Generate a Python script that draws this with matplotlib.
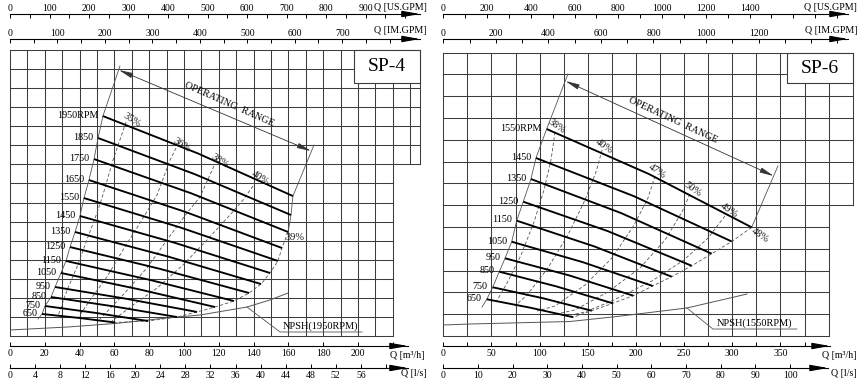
import numpy as np
import matplotlib.pyplot as plt

plt.rcParams['font.family'] = ['Liberation Serif', 'DejaVu Serif']

# ---------------- SP-4 (Q in m3/h, H in m) ----------------
sp4_rpm = ['1950RPM', '1850', '1750', '1650', '1550', '1450', '1350',
           '1250', '1150', '1050', '950', '850', '750', '650']
sp4_q_start = [53.4, 50.6, 48.3, 45.4, 42.5, 40.2, 37.4, 34.5, 32.2, 29.3, 25.9, 23.6, 20.1, 18.4]
sp4_h_start = [23.07, 20.77, 18.56, 16.36, 14.47, 12.59, 10.91, 9.33, 7.87, 6.61, 5.14, 4.09, 3.15, 2.31]
sp4_q_mid = [108.0, 106.1, 104.1, 100.9, 98.3, 94.8, 90.9, 86.0, 80.5, 73.6, 66.7, 59.8, 49.7, 39.4]
sp4_h_mid = [19.15, 16.98, 14.97, 13.01, 11.36, 9.77, 8.33, 7.05, 5.88, 4.92, 3.91, 3.10, 2.41, 1.90]
sp4_q_end = [162.6, 161.5, 159.8, 156.3, 154.0, 149.4, 144.3, 137.4, 128.7, 117.8, 107.5, 96.0, 79.3, 60.3]
sp4_h_end = [14.68, 12.69, 10.91, 9.23, 7.87, 6.61, 5.45, 4.51, 3.67, 3.04, 2.52, 1.99, 1.57, 1.42]

sp4_eff = ['35%', '36%', '38%', '40%']
sp4_eff_q = [[66.7, 59.2, 53.4, 50.0, 44.8, 38.5, 32.8, 27.6],
             [95.4, 92.0, 84.5, 74.7, 64.9, 55.7, 46.0, 39.1],
             [117.2, 109.2, 101.7, 90.2, 78.7, 64.9, 51.7],
             [139.7, 133.9, 126.4, 113.2, 99.4, 84.5, 70.7, 58.6]]
sp4_eff_h = [[22.44, 18.46, 14.79, 12.90, 10.38, 7.24, 4.82, 2.10],
             [19.72, 18.46, 14.79, 11.85, 9.02, 6.19, 3.78, 1.89],
             [17.83, 14.58, 12.90, 10.07, 7.13, 4.30, 1.78],
             [15.73, 14.26, 12.69, 10.07, 7.45, 5.03, 3.25, 1.57]]
sp4_edge_eff = '39%'
sp4_left_top = (63.2, 28.32)
sp4_left_bottom = (16.1, 1.78)
sp4_right_top = (174.7, 20.03)
sp4_range = [(62.6, 27.90), (173.0, 19.40)]

sp4_npsh_q = [0, 32.8, 60.3, 90.2, 109.2, 136.2, 149.4, 159.8]
sp4_npsh_h = [0.63, 0.94, 1.31, 1.89, 2.20, 3.04, 3.78, 4.51]

# ---------------- SP-6 ----------------
sp6_rpm = ['1550RPM', '1450', '1350', '1250', '1150', '1050', '950', '850', '750', '650']
sp6_q_start = [107.3, 96.2, 91.0, 83.0, 76.2, 71.0, 64.1, 58.1, 51.3, 45.1]
sp6_h_start = [18.99, 16.33, 14.40, 12.32, 10.58, 8.65, 7.13, 5.90, 4.47, 3.37]
sp6_q_mid = [213.7, 197.8, 184.8, 170.5, 156.7, 144.2, 130.7, 117.0, 102.7, 90.1]
sp6_h_mid = [14.85, 12.83, 11.27, 9.63, 8.22, 6.79, 5.56, 4.56, 3.48, 2.60]
sp6_q_end = [320.1, 299.4, 278.6, 257.9, 237.1, 217.4, 197.2, 175.9, 154.1, 135.0]
sp6_h_end = [9.97, 8.67, 7.55, 6.44, 5.44, 4.59, 3.70, 3.00, 2.32, 1.72]

sp6_eff = ['38%', '40%', '47%', '50%', '49%']
sp6_eff_q = [[116.0, 111.8, 104.5, 94.2, 80.7, 66.2, 54.8],
             [164.8, 158.5, 147.1, 129.4, 108.6, 86.8, 74.4],
             [219.8, 212.5, 198.0, 175.1, 147.1, 115.9, 97.2],
             [256.1, 247.8, 230.2, 204.2, 171.0, 136.7, 118.0],
             [292.4, 274.8, 249.8, 216.6, 177.1, 147.0, 127.3]]
sp6_eff_h = [[18.72, 16.15, 13.39, 10.46, 7.43, 4.86, 3.12],
             [17.06, 15.05, 12.48, 9.27, 6.24, 3.76, 2.75],
             [14.68, 12.66, 10.18, 7.16, 4.68, 2.75, 2.29],
             [13.03, 11.38, 8.81, 6.24, 4.04, 2.39, 2.02],
             [11.01, 8.99, 6.97, 5.05, 3.30, 2.20, 1.83]]
sp6_edge_eff = '48%'
sp6_left_top = (129.4, 24.04)
sp6_left_bottom = (40.2, 2.66)
sp6_right_top = (347.4, 15.60)
sp6_range = [(126.9, 23.39), (343.0, 14.68)]

sp6_npsh_q = [0, 27.7, 131.5, 180.3, 252.9, 315.2]
sp6_npsh_h = [1.01, 1.10, 1.33, 1.79, 2.57, 3.85]

# scale ticks
sp4_us_ticks = np.arange(0, 1001, 50)
sp4_im_ticks = np.arange(0, 801, 50)
sp4_m3_ticks = np.arange(0, 221, 20)
sp4_ls_ticks = np.arange(0, 61, 4)
sp6_us_ticks = np.arange(0, 1801, 100)
sp6_im_ticks = np.arange(0, 1501, 100)
sp6_m3_ticks = np.arange(0, 376, 25)
sp6_ls_ticks = np.arange(0, 101, 10)

W, H = 861, 388
fig = plt.figure(figsize=(W / 100, H / 100), dpi=100)
GRID = '#3c3c3c'
THIN = '#555555'


def box(x0, y0, x1, y1):
    return [x0 / W, 1 - y1 / H, (x1 - x0) / W, (y1 - y0) / H]


def draw_grid(ax, q_step, q_low, q_high, h_step, h_split, h_top):
    kw = dict(color=GRID, lw=0.75, clip_on=False, zorder=1)
    qs = list(np.arange(0, q_high + 1e-9, q_step))
    if qs[-1] < q_high - 1e-6:
        qs.append(q_high)
    for q in qs:
        ax.plot([q, q], [0 if q <= q_low + 1e-6 else h_split, h_top], **kw)
    for h in np.arange(0, h_top + 1e-9, h_step):
        ax.plot([0, q_low if h < h_split - 1e-6 else q_high], [h, h], **kw)


def draw_panel(ax, name, name_box, rpm, qs, hs, qm, hm, qe, he, eff, eq, eh,
               eff_pos, eff_rot, edge_eff, edge_pos, left_top, left_bottom,
               right_top, n_solid, rng, rng_text, rng_rot, nq, nh, n_idx,
               n_label, n_text_pos, n_line):
    # title box
    (bx0, by0), (bx1, by1) = name_box
    ax.add_patch(plt.Rectangle((bx0, by0), bx1 - bx0, by1 - by0, fc='white',
                               ec=GRID, lw=0.8, zorder=3, clip_on=False))
    ax.text((bx0 + bx1) / 2, (by0 + by1) / 2, name, fontsize=14,
            ha='center', va='center', zorder=4)
    # rpm curves
    for i in range(len(rpm)):
        ax.plot([qs[i], qm[i], qe[i]], [hs[i], hm[i], he[i]], color='black',
                lw=1.35, zorder=5, solid_capstyle='butt')
        ax.annotate(rpm[i], (qs[i], hs[i]), xytext=(-3.5, 0.5),
                    textcoords='offset points', ha='right', va='center',
                    fontsize=7.3, zorder=6)
    # efficiency lines
    for i in range(len(eff)):
        ax.plot(eq[i], eh[i], color=THIN, lw=0.6, ls=(0, (4, 2.5)), zorder=4)
        ax.text(eff_pos[i][0], eff_pos[i][1], eff[i], fontsize=7.5,
                rotation=eff_rot, ha='center', va='center', zorder=6,
                color='#1a1a1a')
    # operating range boundaries
    ax.plot([left_top[0]] + list(qs) + [left_bottom[0]],
            [left_top[1]] + list(hs) + [left_bottom[1]],
            color=THIN, lw=0.6, zorder=4)
    ax.plot([right_top[0]] + list(qe[:n_solid]), [right_top[1]] + list(he[:n_solid]),
            color=THIN, lw=0.6, zorder=4)
    ax.plot(qe[n_solid - 1:], he[n_solid - 1:], color=THIN, lw=0.6,
            ls=(0, (4, 2.5)), zorder=4)
    ax.text(edge_pos[0], edge_pos[1], edge_eff, fontsize=7.5, rotation=edge_pos[2],
            ha='center', va='center', zorder=6, color='#1a1a1a')
    ax.annotate('', xy=rng[1], xytext=rng[0],
                arrowprops=dict(arrowstyle='<|-|>,head_length=0.7,head_width=0.13',
                                mutation_scale=12, color='#333333', lw=0.6,
                                shrinkA=0, shrinkB=0), zorder=6)
    ax.text(rng_text[0], rng_text[1], 'OPERATING  RANGE', fontsize=7.4,
            rotation=rng_rot, ha='center', va='center', rotation_mode='anchor',
            zorder=6)
    # NPSH
    ax.plot(nq, nh, color=THIN, lw=0.7, zorder=4)
    (lx0, ly), lx1 = n_line
    ax.plot([nq[n_idx], lx0, lx1], [nh[n_idx], ly, ly], color=THIN, lw=0.6,
            zorder=4, clip_on=False)
    ax.text(n_text_pos[0], n_text_pos[1], n_label, fontsize=7.5, ha='center',
            va='bottom', zorder=6)


def scale(rect, xmax, ticks, step, lab_max, top, unit, dx, dy, pad):
    ax = fig.add_axes(rect)
    ax.set_xlim(0, xmax)
    ax.set_ylim(0, 1)
    ax.patch.set_alpha(0)
    for s in ax.spines.values():
        s.set_visible(False)
    side = 'top' if top else 'bottom'
    ax.spines[side].set_visible(True)
    ax.spines[side].set_linewidth(0.8)
    ax.set_yticks([])
    ax.set_xticks(ticks)
    ax.set_xticklabels([str(int(t)) if (t % step == 0 and t <= lab_max) else ''
                        for t in ticks])
    ax.tick_params(axis='x', direction='in', length=2.6, width=0.7, labelsize=7,
                   top=top, bottom=not top, labeltop=top, labelbottom=not top,
                   pad=pad)
    y = 1 if top else 0
    ax.annotate('', xy=(1, y), xytext=(0.955, y), xycoords='axes fraction',
                arrowprops=dict(arrowstyle='-|>,head_length=0.9,head_width=0.16',
                                mutation_scale=12, color='black', lw=0.8,
                                shrinkA=0, shrinkB=0))
    ax.annotate(unit, xy=(1, y), xycoords='axes fraction', xytext=(dx, dy),
                textcoords='offset points', ha='right', va='center', fontsize=7.2)
    return ax


# ---------- SP-4 panel ----------
ax4 = fig.add_axes(box(10, 50, 420, 336))
ax4.set_xlim(0, 410 / 1.74)
ax4.set_ylim(0, 30)
ax4.axis('off')
draw_grid(ax4, 10, 220, 410 / 1.74, 2, 18, 30)
sp4_lbl = [(70.1, 22.65), (98.9, 20.03), (120.7, 18.35), (143.7, 16.57)]
draw_panel(ax4, 'SP-4', [(197.7, 26.53), (410 / 1.74, 30)], sp4_rpm,
           sp4_q_start, sp4_h_start, sp4_q_mid, sp4_h_mid, sp4_q_end, sp4_h_end,
           sp4_eff, sp4_eff_q, sp4_eff_h, sp4_lbl, -33, sp4_edge_eff,
           (163.8, 10.28, 0), sp4_left_top, sp4_left_bottom, sp4_right_top, 3,
           sp4_range, (125.9, 24.33), -24, sp4_npsh_q, sp4_npsh_h, 5,
           'NPSH(1950RPM)', (178.7, 0.50), ((155.2, 0.42), 202.3))

# ---------- SP-6 panel ----------
ax6 = fig.add_axes(box(443.3, 52.6, 852.7, 336))
ax6.set_xlim(0, 425)
ax6.set_ylim(0, 26)
ax6.axis('off')
draw_grid(ax6, 25, 400, 425, 2, 12, 26)
sp6_lbl = [(118.0, 19.27), (166.8, 17.43), (221.8, 15.14), (259.2, 13.49), (296.6, 11.56)]
draw_panel(ax6, 'SP-6', [(356.8, 23.17), (425, 26)], sp6_rpm,
           sp6_q_start, sp6_h_start, sp6_q_mid, sp6_h_mid, sp6_q_end, sp6_h_end,
           sp6_eff, sp6_eff_q, sp6_eff_h, sp6_lbl, -35, sp6_edge_eff,
           (328.8, 9.27, -35), sp6_left_top, sp6_left_bottom, sp6_right_top, 1,
           sp6_range, (238.5, 19.82), -25, sp6_npsh_q, sp6_npsh_h, 4,
           'NPSH(1550RPM)', (323.0, 0.70), ((279.9, 0.64), 367.1))

# ---------- flow scales ----------
scale(box(10, 14, 420, 22), 410 / (1.74 * 0.2271), sp4_us_ticks, 100, 900, True,
      'Q [US.GPM]', 5, 5, 0.6)
scale(box(10, 39, 420, 47), 410 / (1.74 * 0.27276), sp4_im_ticks, 100, 700, True,
      'Q [IM.GPM]', 5, 5.8, 0.6)
scale(box(10, 338, 408, 346), 398 / 1.74, sp4_m3_ticks, 20, 200, False,
      'Q [m³/h]', 12, -7.2, 2.5)
scale(box(10, 360, 408, 368), 398 / (1.74 * 3.6), sp4_ls_ticks, 4, 56, False,
      'Q [l/s]', 13.7, -4, 1.8)

scale(box(443.3, 14, 848, 22), 404.7 / (0.9633 * 0.2271), sp6_us_ticks, 200, 1400, True,
      'Q [US.GPM]', 6.5, 5, 0.6)
scale(box(443.3, 39, 848, 47), 404.7 / (0.9633 * 0.27276), sp6_im_ticks, 200, 1200, True,
      'Q [IM.GPM]', 6.5, 5.8, 0.6)
scale(box(443.3, 338, 830, 346), 386.7 / 0.9633, sp6_m3_ticks, 50, 350, False,
      'Q [m³/h]', 19.4, -7.2, 2.5)
scale(box(443.3, 360, 828, 368), 384.7 / (0.9633 * 3.6), sp6_ls_ticks, 10, 100, False,
      'Q [l/s]', 20.9, -4, 1.8)

fig.savefig('out.png', dpi=100)
